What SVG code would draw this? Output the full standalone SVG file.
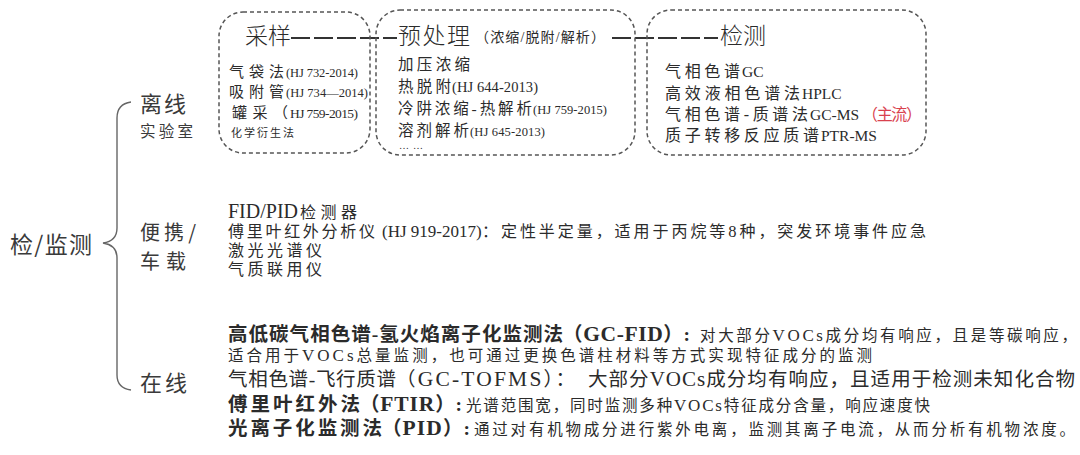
<svg xmlns="http://www.w3.org/2000/svg" width="1080" height="455" viewBox="0 0 1080 455">
<defs>
<style>
text{font-family:"Liberation Serif","Noto Sans CJK SC",serif;fill:#2b2b2b;}
.lab{font-family:"Noto Sans CJK SC","Liberation Sans",sans-serif;fill:#3a3a3a;}
.ttl{font-size:23px;font-family:"Noto Sans CJK SC",serif;fill:#2b2b2b;font-weight:300;}
.box{fill:none;stroke:#555;stroke-width:1.5;stroke-dasharray:4 3;}
.dash{stroke:#333;stroke-width:2;stroke-dasharray:19 4;}
.brace{fill:none;stroke:#666;stroke-width:1.4;}
.b1{font-size:15px;}
.hj{font-size:12.5px;}
.b2{font-size:15.5px;}
.b3{font-size:16px;}
.lat3{font-size:15.5px;}
.mid{font-size:16px;}
.big{font-size:19.5px;font-weight:bold;}
.reg{font-size:19.5px;}
.sm{font-size:15.5px;}
.red{fill:#d9414e;}
</style>
</defs>

<g id="connectors">
<path class="brace" d="M131,102 Q117,104 117,118 L117,228 Q117,241 103,243 Q117,245 117,258 L117,375 Q117,388 131,390"/>
<line class="dash" x1="291" y1="38" x2="397" y2="38"/>
<line class="dash" x1="612" y1="38" x2="718" y2="38"/>
</g>

<g id="root">
<text class="lab" x="10" y="253" font-size="23" textLength="82" lengthAdjust="spacing">检/监测</text>
</g>

<g id="offline">
<text class="lab" x="140" y="112" font-size="22" textLength="46" lengthAdjust="spacing">离线</text>
<text class="lab" x="140" y="137" font-size="15.5" textLength="53" lengthAdjust="spacing">实验室</text>
</g>

<g id="portable">
<text class="lab" x="140" y="240" font-size="20" textLength="56" lengthAdjust="spacing">便携/</text>
<text class="lab" x="140" y="269" font-size="20" textLength="46" lengthAdjust="spacing">车载</text>
</g>

<g id="online">
<text class="lab" x="140" y="391" font-size="22" textLength="47" lengthAdjust="spacing">在线</text>
</g>

<g id="sampling">
<rect class="box" x="219" y="12" width="151" height="141" rx="24"/>
<text class="ttl" x="245" y="44" textLength="46" lengthAdjust="spacing">采样</text>
<text class="b1" x="229" y="77" textLength="55" lengthAdjust="spacing">气袋法</text>
<text class="hj" x="286" y="77" textLength="72" lengthAdjust="spacing">(HJ 732-2014)</text>
<text class="b1" x="229" y="97" textLength="55" lengthAdjust="spacing">吸附管</text>
<text class="hj" x="286" y="97" textLength="82" lengthAdjust="spacing">(HJ 734—2014)</text>
<text class="b1" x="232" y="118" textLength="56" lengthAdjust="spacing">罐采（</text>
<text x="290" y="118" font-size="13.5" textLength="68" lengthAdjust="spacing">HJ 759-2015)</text>
<text x="231" y="137" font-size="11" textLength="63" lengthAdjust="spacing">化学衍生法</text>
</g>

<g id="pretreatment">
<rect class="box" x="376" y="10" width="259" height="145" rx="24"/>
<text class="ttl" x="398" y="44" textLength="72" lengthAdjust="spacing">预处理</text>
<text x="475" y="42" font-size="14" textLength="130" lengthAdjust="spacing">（浓缩/脱附/解析）</text>
<text class="b2" x="398" y="70" textLength="72" lengthAdjust="spacing">加压浓缩</text>
<text class="b2" x="398" y="92" textLength="53" lengthAdjust="spacing">热脱附</text>
<text x="452" y="92" font-size="14.5" textLength="86" lengthAdjust="spacing">(HJ 644-2013)</text>
<text class="b2" x="398" y="114" textLength="134" lengthAdjust="spacing">冷阱浓缩-热解析</text>
<text class="hj" x="533" y="114" textLength="74" lengthAdjust="spacing">(HJ 759-2015)</text>
<text class="b2" x="398" y="136" textLength="71" lengthAdjust="spacing">溶剂解析</text>
<text class="hj" x="470" y="136" textLength="75" lengthAdjust="spacing">(HJ 645-2013)</text>
<text x="399" y="149" font-size="10" fill="#444" textLength="24" lengthAdjust="spacing">……</text>
</g>

<g id="detection">
<rect class="box" x="647" y="10" width="279" height="145" rx="24"/>
<text class="ttl" x="720" y="44" textLength="46" lengthAdjust="spacing">检测</text>
<text class="b3" x="665" y="77" textLength="75" lengthAdjust="spacing">气相色谱</text>
<text class="lat3" x="742" y="77">GC</text>
<text class="b3" x="665" y="99" textLength="135" lengthAdjust="spacing">高效液相色谱法</text>
<text class="lat3" x="802" y="99">HPLC</text>
<text class="b3" x="665" y="120" textLength="143" lengthAdjust="spacing">气相色谱-质谱法</text>
<text class="lat3" x="810" y="120">GC-MS</text>
<text class="b3 red" x="862" y="120" textLength="60" lengthAdjust="spacing">（主流）</text>
<text class="b3" x="665" y="141" textLength="154" lengthAdjust="spacing">质子转移反应质谱</text>
<text class="lat3" x="821" y="141">PTR-MS</text>
</g>

<g id="portable-items">
<text x="228" y="218" font-size="20">FID/PID</text>
<text class="mid" x="300" y="218" textLength="57" lengthAdjust="spacing">检测器</text>
<text class="mid" x="228" y="237" textLength="147" lengthAdjust="spacing">傅里叶红外分析仪</text>
<text x="382" y="237" font-size="17">(HJ 919-2017)</text>
<text class="mid" x="482" y="237" textLength="444" lengthAdjust="spacing">：定性半定量，适用于丙烷等<tspan font-size="16.5">8</tspan>种，突发环境事件应急</text>
<text class="mid" x="228" y="256" textLength="94" lengthAdjust="spacing">激光光谱仪</text>
<text class="mid" x="228" y="275" textLength="94" lengthAdjust="spacing">气质联用仪</text>
</g>

<g id="online-items">
<text class="big" x="228" y="341" textLength="335" lengthAdjust="spacing">高低碳气相色谱-氢火焰离子化监测法</text>
<text class="big" x="563" y="341" textLength="127" lengthAdjust="spacing">（<tspan font-size="21.5">GC-FID</tspan>）:</text>
<text class="sm" x="700" y="341" textLength="377" lengthAdjust="spacing">对大部分<tspan font-size="17">VOCs</tspan>成分均有响应，且是等碳响应，</text>
<text class="sm" x="228" y="361" textLength="644" lengthAdjust="spacing">适合用于<tspan font-size="17">VOCs</tspan>总量监测，也可通过更换色谱柱材料等方式实现特征成分的监测</text>
<text class="reg" x="228" y="386" textLength="168" lengthAdjust="spacing">气相色谱-飞行质谱</text>
<text class="reg" x="396" y="386" textLength="179" lengthAdjust="spacing">（<tspan font-size="21.5">GC-TOFMS</tspan>）：</text>
<text class="reg" x="588" y="386" textLength="487" lengthAdjust="spacing">大部分<tspan font-size="21">VOCs</tspan>成分均有响应，且适用于检测未知化合物</text>
<text class="big" x="228" y="411" textLength="132" lengthAdjust="spacing">傅里叶红外法</text>
<text class="big" x="360" y="411" textLength="102" lengthAdjust="spacing">（<tspan font-size="21.5">FTIR</tspan>）:</text>
<text class="sm" x="466" y="411" textLength="464" lengthAdjust="spacing">光谱范围宽，同时监测多种<tspan font-size="17">VOCs</tspan>特征成分含量，响应速度快</text>
<text class="big" x="228" y="435" textLength="154" lengthAdjust="spacing">光离子化监测法</text>
<text class="big" x="382" y="435" textLength="88" lengthAdjust="spacing">（<tspan font-size="21.5">PID</tspan>）:</text>
<text class="sm" x="474" y="435" textLength="601" lengthAdjust="spacing">通过对有机物成分进行紫外电离，监测其离子电流，从而分析有机物浓度。</text>
</g>
</svg>
